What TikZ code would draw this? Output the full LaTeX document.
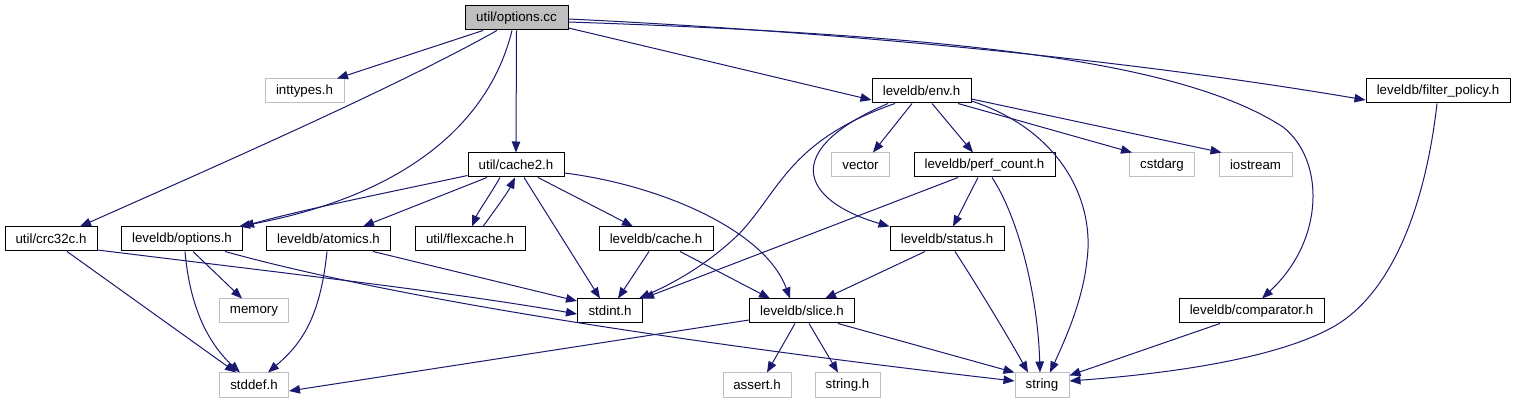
\documentclass[tikz,border=0pt]{standalone}
\usepackage{fontspec}
\setmainfont{Liberation Sans}
\usetikzlibrary{arrows.meta}
\definecolor{edgecol}{HTML}{191970}
\definecolor{grayb}{HTML}{BFBFBF}
\begin{document}
\begin{tikzpicture}[x=1pt,y=-1pt,
  box/.style={draw=black, line width=1pt, minimum height=24pt, inner sep=0pt, fill=white,
    font=\fontsize{13.3pt}{15pt}\selectfont},
  sysbox/.style={box, draw=grayb},
  rootbox/.style={box, fill=grayb},
  dep/.style={draw=edgecol, line width=1pt, -{Triangle[length=11pt,width=8.5pt]}}]
\useasboundingbox[fill=white] (0,0) rectangle (1516,403);
% row 0
\node[rootbox, minimum width=103pt] (oc) at (516.5,18) {util/options.cc};
% row 1
\node[sysbox, minimum width=79pt] (inttypes) at (304.5,91) {inttypes.h};
\node[box, minimum width=99pt] (env) at (921.5,91) {leveldb/env.h};
\node[box, minimum width=144pt] (filter) at (1438,91) {leveldb/filter\_policy.h};
% row 2
\node[box, minimum width=96pt] (cache2) at (516,165) {util/cache2.h};
\node[sysbox, minimum width=58pt] (vector) at (860.5,165) {vector};
\node[box, minimum width=141pt] (perf) at (984.5,165) {leveldb/perf\_count.h};
\node[sysbox, minimum width=65pt] (cstdarg) at (1162,165) {cstdarg};
\node[sysbox, minimum width=73pt] (iostream) at (1255.5,165) {iostream};
% row 3
\node[box, minimum width=92pt] (crc) at (51,239) {util/crc32c.h};
\node[box, minimum width=121pt] (opts) at (182,239) {leveldb/options.h};
\node[box, minimum width=124pt] (atom) at (328.5,239) {leveldb/atomics.h};
\node[box, minimum width=110pt] (flex) at (470,239) {util/flexcache.h};
\node[box, minimum width=114pt] (cache) at (656,239) {leveldb/cache.h};
\node[box, minimum width=114pt] (status) at (947,239) {leveldb/status.h};
% row 4
\node[sysbox, minimum width=69pt] (memory) at (254,311) {memory};
\node[box, minimum width=65pt] (stdint) at (610,311) {stdint.h};
\node[box, minimum width=105pt] (slice) at (802,311) {leveldb/slice.h};
\node[box, minimum width=145pt] (comp) at (1251.5,311) {leveldb/comparator.h};
% row 5
\node[sysbox, minimum width=69pt] (stddef) at (254,385) {stddef.h};
\node[sysbox, minimum width=68pt] (assert) at (757,385) {assert.h};
\node[sysbox, minimum width=65pt] (stringh) at (847.5,385) {string.h};
\node[sysbox, minimum width=54pt] (string) at (1042,385) {string};
% edges from util/options.cc
\draw[dep] ([xshift=-33.5pt]oc.south) -- ([xshift=32.5pt]inttypes.north);
\draw[dep] ([xshift=-19.5pt]oc.south) .. controls (400,85) and (230,160) .. ([xshift=29pt]crc.north);
\draw[dep] ([xshift=-4.5pt]oc.south) .. controls (490,120) and (410,195) .. ([xshift=57pt]opts.north);
\draw[dep] (oc.south) -- (cache2.north);
\draw[dep] ([yshift=-10pt]oc.east) -- ([yshift=-9pt]env.west);
\draw[dep] ([yshift=-1pt]oc.east) .. controls (800,30) and (1100,55) .. ([yshift=-9pt]filter.west);
\draw[dep] ([yshift=-4pt]oc.east) .. controls (950,35) and (1180,60) .. (1283,127)
  .. controls (1325,160) and (1325,240) .. ([xshift=10.5pt]comp.north);
% edges from leveldb/env.h
\draw[dep] ([xshift=-9.5pt]env.south) -- ([xshift=12.5pt]vector.north);
\draw[dep] ([xshift=10.5pt]env.south) -- ([xshift=-11.5pt]perf.north);
\draw[dep] ([xshift=36.5pt]env.south) -- ([xshift=-30pt]cstdarg.north);
\draw[dep] ([yshift=-8pt]env.east) -- ([xshift=-34pt]iostream.north);
\draw[dep] ([yshift=-10pt]env.east) .. controls (1060,130) and (1095,200) .. (1087,260)
  .. controls (1083,300) and (1065,340) .. ([xshift=8pt]string.north);
\draw[dep] ([xshift=-26.5pt]env.south) .. controls (790,140) and (780,190) .. (740,233)
  .. controls (710,262) and (680,280) .. ([xshift=-4pt]stdint.north east);
\draw[dep] ([xshift=-33.5pt]env.south) .. controls (780,150) and (800,200) .. (status.north west);
% edges from leveldb/perf_count.h
\draw[dep] ([xshift=-6.5pt]perf.south) -- ([xshift=6pt]status.north);
\draw[dep] ([xshift=-26.5pt]perf.south) -- (stdint.north east);
\draw[dep] ([xshift=7.5pt]perf.south) .. controls (1020,220) and (1038,300) .. ([xshift=-2pt]string.north);
% edges from leveldb/status.h
\draw[dep] ([xshift=-22pt]status.south) -- ([xshift=23pt]slice.north);
\draw[dep] ([xshift=8pt]status.south) .. controls (980,290) and (1010,340) .. ([xshift=-14pt]string.north);
% edges from util/cache2.h
\draw[dep] ([yshift=2pt]cache2.south west) .. controls (400,190) and (300,210) .. (opts.north east);
\draw[dep] ([xshift=-29pt]cache2.south) -- ([xshift=34.5pt]atom.north);
\draw[dep] ([xshift=-16pt]cache2.south) .. controls (490,195) and (478,212) .. ([xshift=2pt]flex.north);
\draw[dep] ([xshift=13pt]flex.north) .. controls (495,210) and (508,192) .. ([xshift=-1pt]cache2.south);
\draw[dep] ([xshift=8pt]cache2.south) -- ([xshift=-10pt]stdint.north);
\draw[dep] ([xshift=22pt]cache2.south) -- ([xshift=-23pt]cache.north);
\draw[dep] ([yshift=-8pt]cache2.east) .. controls (660,185) and (765,230) .. ([xshift=-12pt]slice.north);
% edges from leveldb/cache.h
\draw[dep] ([xshift=-7pt]cache.south) -- ([xshift=8pt]stdint.north);
\draw[dep] ([xshift=24pt]cache.south) -- ([xshift=-32pt]slice.north);
% edges from util/crc32c.h
\draw[dep] ([xshift=16pt]crc.south) -- ([xshift=-18pt]stddef.north);
\draw[dep] ([yshift=-11pt]crc.east) .. controls (300,275) and (450,292) .. ([yshift=-3pt]stdint.west);
% edges from leveldb/options.h
\draw[dep] ([xshift=11pt]opts.south) -- ([xshift=-12pt]memory.north);
\draw[dep] ([xshift=3pt]opts.south) .. controls (190,310) and (210,345) .. ([xshift=-14pt]stddef.north);
\draw[dep] ([xshift=43pt]opts.south) .. controls (400,300) and (700,345) .. ([yshift=4pt]string.west);
% edges from leveldb/atomics.h
\draw[dep] ([xshift=-1.5pt]atom.south) .. controls (320,320) and (300,345) .. ([xshift=14pt]stddef.north);
\draw[dep] ([xshift=44.5pt]atom.south) -- ([yshift=10pt]stdint.west);
% edges from leveldb/slice.h
\draw[dep] ([yshift=-9pt]slice.west) -- ([yshift=-6pt]stddef.east);
\draw[dep] ([xshift=-7pt]slice.south) -- ([xshift=10pt]assert.north);
\draw[dep] ([xshift=7pt]slice.south) -- ([xshift=-9.5pt]stringh.north);
\draw[dep] ([xshift=36pt]slice.south) -- (string.north west);
% edges from comparator / filter_policy
\draw[dep] ([xshift=-31.5pt]comp.south) -- ([yshift=-3pt]string.north east);
\draw[dep] ([xshift=-1pt]filter.south) .. controls (1425,210) and (1390,295) .. (1333,327)
  .. controls (1270,362) and (1150,375) .. ([yshift=4pt]string.east);
\end{tikzpicture}
\end{document}
